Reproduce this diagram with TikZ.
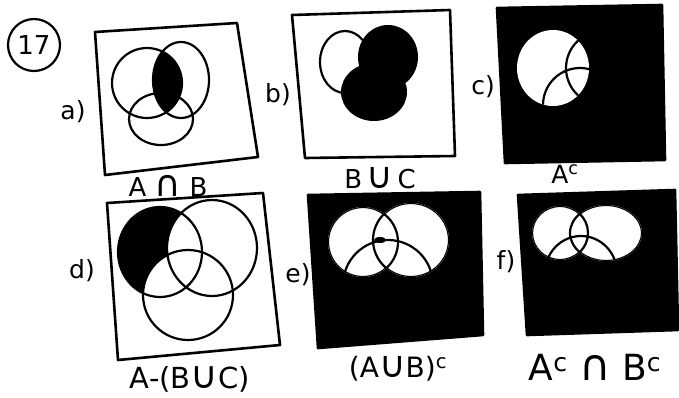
\documentclass[tikz,border=0pt]{standalone}
\usepackage{fontspec}
\setmainfont{DejaVu Sans}
\usetikzlibrary{positioning}
\tikzset{
  % --- boxes and rings
  frame/.style   = {line width=2.6pt, line join=round, line cap=round},
  ring/.style    = {line width=2.2pt},
  inkbox/.style  = {frame, draw=black, fill=black},
  % --- text
  tag/.style     = {font=\fontsize{25}{27}\selectfont, inner sep=1pt},
  setname/.style = {font=\fontsize{26}{28}\selectfont, inner sep=1pt},
}

\begin{document}
\begin{tikzpicture}[x=1pt,y=-1pt]
  \useasboundingbox (0,0) rectangle (679,397);

  % problem number
  \node[draw, circle, line width=2.2pt, minimum size=52pt, inner sep=0pt,
        font=\fontsize{26}{28}\selectfont] (num) at (34,45) {17};

  % a) A n B
  \draw[frame] (95,32) -- (237,23) -- (258,157) -- (105,175) -- cycle;
  \begin{scope}
    \clip (147,83) ellipse (35pt and 35pt);
    \fill (181,80) ellipse (28pt and 38pt);
  \end{scope}
  \draw[ring] (147,83) ellipse (35pt and 35pt);
  \draw[ring] (181,80) ellipse (28pt and 38pt);
  \draw[ring] (161,119) ellipse (32pt and 26pt);
  \node[tag] (tag-a) at (73,112) {a)};
  \node[setname] (set-a) at (168,186) {A \scalebox{1.4}{∩} B};

  % b) B u C
  \draw[frame] (292,15) -- (450,10) -- (455,156) -- (305,158) -- cycle;
  \draw[ring] (345,62) ellipse (25pt and 31pt);
  \fill (388,57) ellipse (30pt and 32pt);
  \fill (374,92) ellipse (33pt and 29pt);
  \node[tag] (tag-b) at (278,95) {b)};
  \node[setname] (set-b) at (380,178) {B\,\scalebox{1.4}{∪}\,C};

  % c) A^c
  \fill[inkbox] (497,8) -- (662,5) -- (665,160) -- (505,163) -- cycle;
  \fill[white] (553,68) ellipse (36pt and 38pt);
  \begin{scope}
    \clip (553,68) ellipse (36pt and 38pt);
    \draw[ring] (603,68) ellipse (37pt and 37pt);
    \draw[ring] (580,105) ellipse (37pt and 37pt);
  \end{scope}
  \node[tag] (tag-c) at (483,87) {c)};
  \node[tag] (set-c) at (565,174) {A\textsuperscript{c}};

  % d) A-(B u C)
  \draw[frame] (107,203) -- (263,193) -- (280,345) -- (118,360) -- cycle;
  \begin{scope}
    \clip (160,252) ellipse (42pt and 45pt);
    \fill (160,252) ellipse (42pt and 45pt);
    \fill[white] (212,248) ellipse (45pt and 48pt);
    \fill[white] (188,295) ellipse (45pt and 45pt);
  \end{scope}
  \draw[ring] (160,252) ellipse (42pt and 45pt);
  \draw[ring] (212,248) ellipse (45pt and 48pt);
  \draw[ring] (188,295) ellipse (45pt and 45pt);
  \node[tag] (tag-d) at (82,271) {d)};
  \node[setname, font=\fontsize{29}{31}\selectfont] (set-d) at (190,379) {A-(B\scalebox{1.3}{∪}C)};

  % e) (A u B)^c
  \fill[inkbox] (308,195) -- (480,192) -- (483,335) -- (318,348) -- cycle;
  \fill[white] (363,242) ellipse (35pt and 35pt) (411,240) ellipse (38pt and 37pt);
  \begin{scope}
    \clip (363,242) ellipse (35pt and 35pt) (411,240) ellipse (38pt and 37pt);
    \draw[ring] (363,242) ellipse (35pt and 35pt);
    \draw[ring] (411,240) ellipse (38pt and 37pt);
    \draw[ring] (388,285) ellipse (45pt and 45pt);
  \end{scope}
  \fill (380,240) ellipse (6pt and 3pt);
  \node[tag] (tag-e) at (298,275) {e)};
  \node[setname, font=\fontsize{28}{30}\selectfont] (set-e) at (398,369) {(A\scalebox{1.3}{∪}B)\textsuperscript{c}};

  % f) A^c n B^c
  \fill[inkbox] (518,195) -- (675,190) -- (678,330) -- (527,335) -- cycle;
  \fill[white] (560,233) ellipse (28pt and 27pt) (606,233) ellipse (36pt and 28pt);
  \begin{scope}
    \clip (560,233) ellipse (28pt and 27pt) (606,233) ellipse (36pt and 28pt);
    \draw[ring] (560,233) ellipse (28pt and 27pt);
    \draw[ring] (606,233) ellipse (36pt and 28pt);
    \draw[ring] (581,273) ellipse (36pt and 37pt);
  \end{scope}
  \node[tag] (tag-f) at (506,262) {f)};
  \node[setname, font=\fontsize{36}{38}\selectfont] (set-f) at (595,367) {A\textsuperscript{c} \scalebox{1.2}{∩} B\textsuperscript{c}};
\end{tikzpicture}
\end{document}
